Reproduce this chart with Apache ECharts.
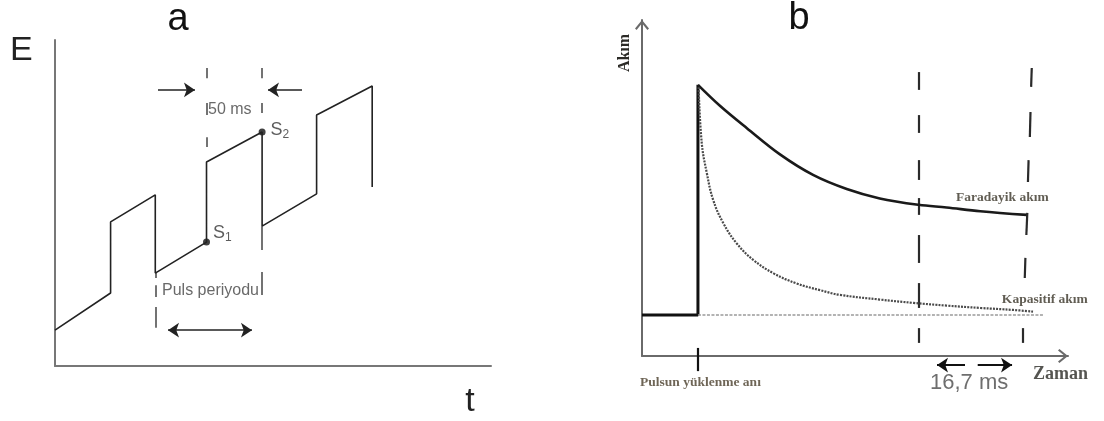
<!DOCTYPE html>
<html>
<head>
<meta charset="utf-8">
<script src="https://cdn.jsdelivr.net/npm/echarts@6/dist/echarts.min.js"></script>
<style>
  html, body { margin: 0; padding: 0; background: #ffffff; }
  #chart { width: 1104px; height: 421px; }
</style>
</head>
<body>
<div id="chart"></div>
<script>
// ---------- Panel a: staircase potential with superimposed pulses (t in ms, E in arbitrary units)
const waveA = [
  [0, 11], [51, 22.4], [51, 44.2], [92, 52.5], [92, 28.5], [139, 38], [139, 62.6],
  [190, 71.8], [190, 42.9], [240, 52.8], [240, 77], [291, 85.9], [291, 54.9]
];
// short guide strokes marking the sampling instants and the pulse period
const guideA = [
  [[92, 28.5], [92, 27]], [[92, 24.8], [92, 21.2]], [[92, 18.1], [92, 11.7]],
  [[139, 91.4], [139, 88.3]], [[139, 80.7], [139, 77]], [[139, 70.2], [139, 67.2]],
  [[190, 91.4], [190, 88.3]], [[190, 80.7], [190, 77.6]],
  [[190, 42.9], [190, 35.6]], [[190, 28.8], [190, 21.8]]
];
const arrowsA = [
  [[94.5, 84.7], [128.4, 84.7]],
  [[226.6, 84.7], [195.4, 84.7]]
];
const periodSpanA = [[103.7, 11.0], [180.7, 11.0]];
const samplesA = [[139, 38], [190, 71.8]];
const sampleIdsA = ['1', '2'];
const textA = [['50 ms', 140.4, 78.5], ['Puls periyodu', 98.2, 23]];

// ---------- Panel b: current after a potential step (time in ms, current in arbitrary units)
const stepB = [[0, 12.2], [8.8, 12.2], [8.8, 80.7]];
const faradaicB = [
  [8.8, 80.7], [12.3, 74.4], [16.5, 67.8], [21.7, 60.0], [26.9, 53.9], [32.2, 49.7],
  [37.4, 46.9], [43.5, 45.0], [47.9, 44.2], [53.2, 43.1], [60.5, 42.0]
];
const capacitiveB = [
  [8.9, 80.0], [9.4, 63.3], [10.2, 54.4], [11.2, 46.4], [12.8, 39.5], [14.9, 33.5],
  [17.5, 28.6], [20.7, 24.6], [24.3, 21.6], [28.0, 19.6], [31.1, 18.2], [37.4, 16.8],
  [42.7, 15.8], [47.9, 15.0], [53.2, 14.3], [58.4, 13.7], [61.5, 13.2]
];
const baselineB = [[8.8, 12.2], [63.1, 12.2]];
const windowLeftB = [
  [[43.6, 84.5], [43.6, 79.2]], [[43.6, 71.7], [43.6, 66.4]], [[43.6, 58.3], [43.6, 52.4]],
  [[43.6, 47.0], [43.6, 42.0]], [[43.6, 36.0], [43.6, 27.7]], [[43.6, 21.7], [43.6, 14.3]],
  [[43.6, 8.3], [43.6, 3.9]]
];
const windowRightB = [
  [[61.3, 85.7], [61.2, 80.1]], [[61.1, 72.6], [61.0, 65.2]], [[60.8, 58.3], [60.7, 51.8]],
  [[60.6, 42.6], [60.45, 36.0]], [[60.3, 29.2], [60.2, 23.2]], [[59.95, 8.3], [59.9, 3.9]]
];
const pulseTickB = [[8.8, 2.4], [8.8, -4.5]];
const arrowsB = [
  [[50.8, -2.7], [46.4, -2.7]],
  [[52.8, -2.7], [58.2, -2.7]]
];
const curveLabelsB = [['Faradayik akım', 49.4, 47.3], ['Kapasitif akım', 56.6, 16.7]];
const axisLabelsB = [['Zaman', 61.5, -5.4], ['Pulsun yüklenme anı', -0.3, -8]];
const windowLabelB = ['16,7 ms', 45.3, -8];

// ---------- styling
const SANS = 'Liberation Sans, Arial, sans-serif';
const SERIF = 'Liberation Serif, Times New Roman, serif';
const AXIS_A = '#777777';
const AXIS_B = '#6a6a6a';
const INK = '#222222';
const CHEVRON = 'path://M7 0 L14 8.6 L12.4 10 L7 3.2 L1.6 10 L0 8.6 Z';

function bareAxis(gridIndex, min, max, color, width, symbol) {
  return {
    type: 'value', gridIndex, min, max,
    axisLine: {
      show: true, onZero: false,
      lineStyle: { color, width },
      symbol: symbol ? ['none', symbol] : 'none',
      symbolSize: [14, 10],
      symbolOffset: [0, -5]
    },
    axisTick: { show: false },
    axisLabel: { show: false },
    splitLine: { show: false }
  };
}

function segments(id, axis, segs, style, symbol, symbolSize) {
  return {
    id, type: 'lines', coordinateSystem: 'cartesian2d',
    xAxisIndex: axis, yAxisIndex: axis, polyline: false, silent: true, clip: false,
    symbol: symbol || 'none', symbolSize: symbolSize || 10,
    lineStyle: Object.assign({ opacity: 1, curveness: 0 }, style),
    effect: { show: false },
    data: segs.map(c => ({ coords: c }))
  };
}

function line(id, axis, data, style, smooth) {
  return {
    id, type: 'line', xAxisIndex: axis, yAxisIndex: axis, data,
    showSymbol: false, symbol: 'none', smooth: smooth || false, clip: false,
    silent: true, lineStyle: style
  };
}

function textLayer(id, axis, items, font) {
  return {
    id, type: 'scatter', xAxisIndex: axis, yAxisIndex: axis, symbolSize: 0, silent: true,
    clip: false,
    data: items.map(([txt, x, y]) => ({ value: [x, y], name: txt })),
    label: Object.assign({
      show: true, position: [0, 0], align: 'left', verticalAlign: 'middle',
      formatter: p => p.name
    }, font)
  };
}

const option = {
  animation: false,
  backgroundColor: '#ffffff',
  grid: [
    { left: 55, top: 40, width: 436, height: 326 },
    { left: 642, top: 20, width: 426, height: 336 }
  ],
  xAxis: [
    bareAxis(0, 0, 400, AXIS_A, 2),
    bareAxis(1, 0, 67, AXIS_B, 2, CHEVRON)
  ],
  yAxis: [
    bareAxis(0, 0, 100, AXIS_A, 2),
    bareAxis(1, 0, 100, AXIS_B, 2, CHEVRON)
  ],
  graphic: [
    { type: 'text', x: 10, y: 51, style: { text: 'E', font: '34px ' + SANS, fill: '#222', align: 'left', verticalAlign: 'middle' } },
    { type: 'text', x: 470, y: 402, style: { text: 't', font: '34px ' + SANS, fill: '#222', align: 'center', verticalAlign: 'middle' } },
    { type: 'text', x: 178, y: 20, style: { text: 'a', font: '38px ' + SANS, fill: '#111', align: 'center', verticalAlign: 'middle' } },
    { type: 'text', x: 799, y: 19, style: { text: 'b', font: '38px ' + SANS, fill: '#111', align: 'center', verticalAlign: 'middle' } },
    { type: 'text', x: 625, y: 53, rotation: Math.PI / 2,
      style: { text: 'Akım', font: 'bold 16px ' + SERIF, fill: '#2b2a26', align: 'center', verticalAlign: 'middle' } }
  ],
  series: [
    // panel a
    line('waveA', 0, waveA, { color: INK, width: 1.6 }),
    segments('guideA', 0, guideA, { color: '#444', width: 1.5 }),
    segments('arrowsA', 0, arrowsA, { color: INK, width: 1.6 }, ['none', 'arrow'], 11),
    segments('periodA', 0, [periodSpanA], { color: INK, width: 1.6 }, ['arrow', 'arrow'], 11),
    {
      id: 'samplesA', type: 'scatter', xAxisIndex: 0, yAxisIndex: 0, silent: true,
      symbol: 'circle', symbolSize: 7, itemStyle: { color: '#111' },
      data: samplesA.map((v, i) => ({ value: v, name: sampleIdsA[i] })),
      label: {
        show: true, position: 'right', distance: 3,
        formatter: p => '{s|S}{sub|' + p.name + '}',
        rich: {
          s: { fontFamily: SANS, fontSize: 18, color: '#333' },
          sub: { fontFamily: SANS, fontSize: 12, color: '#333', padding: [10, 0, 0, 0] }
        }
      },
      labelLayout: p => ({ dy: p.dataIndex === 0 ? -9 : -2, dx: p.dataIndex === 0 ? 0 : 2 })
    },
    textLayer('textA', 0, textA, { fontFamily: SANS, fontSize: 16, color: '#444' }),

    // panel b
    line('stepB', 1, stepB, { color: '#111', width: 3 }),
    line('faradaicB', 1, faradaicB, { color: '#1a1a1a', width: 2.6 }, 0.35),
    line('capacitiveB', 1, capacitiveB, { color: '#4a4a4a', width: 2.2, type: [2, 1.2] }, 0.4),
    line('baselineB', 1, baselineB, { color: '#9a9a9a', width: 1.6, type: [3, 1.5] }),
    segments('windowLeftB', 1, windowLeftB, { color: '#2a2a2a', width: 2.2 }),
    segments('windowRightB', 1, windowRightB, { color: '#2a2a2a', width: 2.2 }),
    segments('pulseTickB', 1, [pulseTickB], { color: '#111', width: 2.2 }),
    segments('arrowsB', 1, arrowsB, { color: '#111', width: 2 }, ['none', 'arrow'], 11),
    textLayer('curveLabelsB', 1, curveLabelsB, { fontFamily: SERIF, fontSize: 13.5, fontWeight: 'bold', color: '#3a3428' }),
    textLayer('zamanB', 1, [axisLabelsB[0]], { fontFamily: SERIF, fontSize: 18, fontWeight: 'bold', color: '#2b2a26' }),
    textLayer('pulseLabelB', 1, [axisLabelsB[1]], { fontFamily: SERIF, fontSize: 13.5, fontWeight: 'bold', color: '#4a3e2c' }),
    textLayer('windowLabelB', 1, [windowLabelB], { fontFamily: SANS, fontSize: 22, color: '#4a4a4a' })
  ]
};

const chart = echarts.init(document.getElementById('chart'), null, { renderer: 'canvas' });
chart.setOption(option);
</script>
</body>
</html>
